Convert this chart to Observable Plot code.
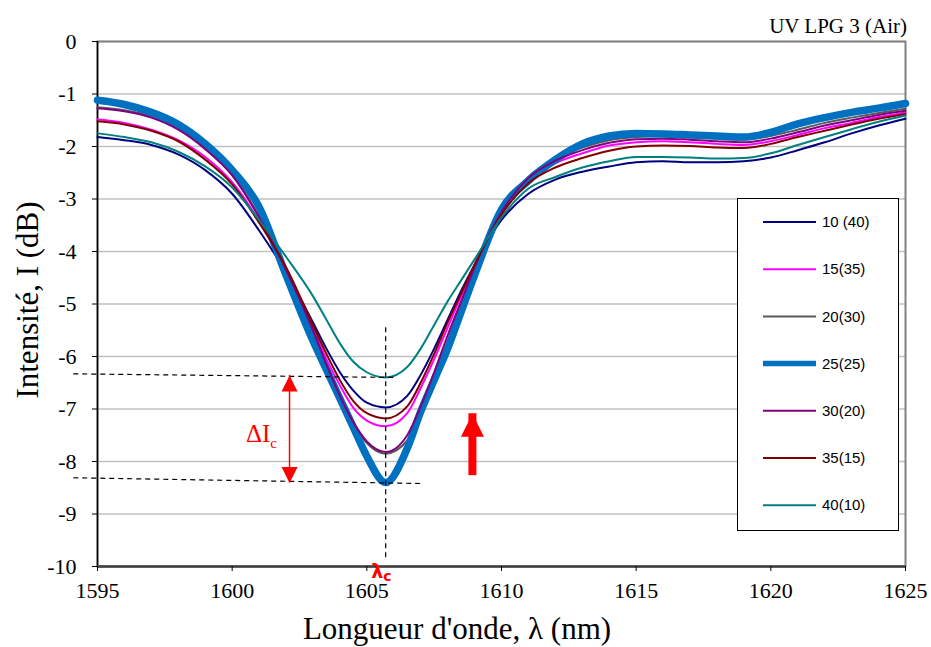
<!DOCTYPE html>
<html><head><meta charset="utf-8">
<script src="https://cdn.jsdelivr.net/npm/d3@7"></script>
<script src="https://cdn.jsdelivr.net/npm/@observablehq/plot@0.6"></script>
<style>
body{margin:0;background:#fff}
#chart svg{display:block}
#chart svg text{font-family:"Liberation Serif","Times New Roman",Times,"DejaVu Serif",serif}
#chart svg text.sans{font-family:"Liberation Sans",Arial,"DejaVu Sans",sans-serif}
#chart svg text.lam{font-family:"DejaVu Sans","Liberation Sans",sans-serif;font-weight:bold}
</style>
</head><body><div id="chart"></div>
<script>
// ---- data ----
const wavelength = [1595,1596,1597,1598,1599,1600,1601,1602,1603,1603.5,1604,1604.5,1605,1605.7,1606.5,1607,1607.5,1608,1608.5,1609,1610,1611,1612,1613,1614,1615,1616,1617,1618,1619,1620,1621,1622,1623,1624,1625];
const s10_40 = [-1.82,-1.88,-1.97,-2.15,-2.45,-2.9,-3.6,-4.4,-5.35,-5.85,-6.3,-6.65,-6.88,-6.97,-6.75,-6.35,-5.85,-5.3,-4.75,-4.25,-3.4,-2.9,-2.63,-2.48,-2.38,-2.3,-2.28,-2.3,-2.3,-2.28,-2.21,-2.07,-1.92,-1.75,-1.6,-1.47];
const s15_35 = [-1.48,-1.55,-1.68,-1.88,-2.2,-2.68,-3.42,-4.35,-5.45,-6.05,-6.55,-6.98,-7.22,-7.33,-7.08,-6.6,-6.05,-5.45,-4.85,-4.25,-3.28,-2.65,-2.32,-2.13,-1.98,-1.92,-1.9,-1.92,-1.95,-1.97,-1.9,-1.78,-1.65,-1.55,-1.44,-1.35];
const s20_30 = [-1.25,-1.31,-1.43,-1.66,-2.03,-2.53,-3.33,-4.35,-5.5,-6.15,-6.75,-7.27,-7.65,-7.85,-7.6,-7.1,-6.45,-5.75,-5.05,-4.35,-3.25,-2.58,-2.23,-2.02,-1.88,-1.82,-1.8,-1.82,-1.85,-1.87,-1.8,-1.68,-1.55,-1.45,-1.36,-1.28];
const s25_25 = [-1.12,-1.2,-1.35,-1.58,-1.95,-2.45,-3.15,-4.45,-5.7,-6.25,-6.8,-7.35,-7.9,-8.4,-7.75,-7.05,-6.45,-5.85,-5.15,-4.45,-3.2,-2.65,-2.25,-1.95,-1.8,-1.75,-1.76,-1.78,-1.8,-1.82,-1.73,-1.57,-1.45,-1.35,-1.27,-1.18];
const s30_20 = [-1.27,-1.33,-1.45,-1.68,-2.05,-2.55,-3.35,-4.35,-5.5,-6.15,-6.75,-7.25,-7.62,-7.82,-7.5,-6.95,-6.3,-5.6,-4.95,-4.3,-3.25,-2.6,-2.27,-2.07,-1.93,-1.86,-1.85,-1.87,-1.9,-1.92,-1.85,-1.73,-1.6,-1.5,-1.4,-1.32];
const s35_15 = [-1.52,-1.58,-1.7,-1.9,-2.25,-2.72,-3.45,-4.3,-5.4,-5.95,-6.45,-6.85,-7.08,-7.18,-6.95,-6.5,-5.95,-5.35,-4.8,-4.25,-3.3,-2.7,-2.4,-2.22,-2.08,-2.0,-1.98,-1.99,-2.02,-2.03,-1.95,-1.82,-1.7,-1.58,-1.47,-1.38];
const s40_10 = [-1.75,-1.82,-1.92,-2.1,-2.38,-2.78,-3.4,-4.1,-4.85,-5.3,-5.75,-6.1,-6.3,-6.4,-6.2,-5.85,-5.4,-4.95,-4.55,-4.15,-3.35,-2.8,-2.58,-2.4,-2.28,-2.2,-2.2,-2.21,-2.23,-2.22,-2.13,-1.97,-1.82,-1.67,-1.53,-1.41];

const seriesNames = ["10 (40)","15(35)","20(30)","25(25)","30(20)","35(15)","40(10)"];
const seriesValues = [s10_40, s15_35, s20_30, s25_25, s30_20, s35_15, s40_10];
const seriesColors = ["#000080","#ff00ff","#595959","#0070c0","#800080","#800000","#008080"];
const seriesWidths = [2,2,2,7.5,2,2,2];

const xTicks = [1595,1600,1605,1610,1615,1620,1625];
const yTicks = [0,-1,-2,-3,-4,-5,-6,-7,-8,-9,-10];

// annotation values (data units)
const lambdaC = 1605.7;
const lambdaLine = [{x: lambdaC, y1: -5.45, y2: -9.9}];
const levelLines = [
  {x1: 1594.1, y1: -6.33, x2: 1606.1, y2: -6.4},
  {x1: 1594.1, y1: -8.31, x2: 1607.1, y2: -8.42}
];
const deltaArrow = {x: 1602.13, top: -6.36, bottom: -8.41};
const bigArrow = {x: 1608.92, tip: -7.09, base: -8.27};

// ---- build table ----
const rows = [];
seriesNames.forEach((name, i) => {
  seriesValues[i].forEach((v, j) => rows.push({series: name, wl: wavelength[j], I: v}));
});

const headUp = {draw(ctx, size){ const r = Math.sqrt(size/Math.PI); ctx.moveTo(0,-r); ctx.lineTo(r,r); ctx.lineTo(-r,r); ctx.closePath(); }};
const headDown = {draw(ctx, size){ const r = Math.sqrt(size/Math.PI); ctx.moveTo(0,r); ctx.lineTo(r,-r); ctx.lineTo(-r,-r); ctx.closePath(); }};

const lineMarks = seriesNames.map((name, i) =>
  Plot.line(rows.filter(d => d.series === name), {x: "wl", y: "I", stroke: seriesColors[i], strokeWidth: seriesWidths[i], curve: "monotone-x", strokeLinejoin: "round"})
);

const chart = Plot.plot({
  width: 931, height: 647,
  marginLeft: 97, marginRight: 26, marginTop: 41, marginBottom: 81,
  style: {fontSize: "22px", color: "#000", background: "#fff"},
  x: {domain: [1595, 1625]},
  y: {domain: [-10, 0]},
  marks: [
    Plot.gridY(yTicks, {stroke: "#c0c0c0", strokeOpacity: 1, strokeWidth: 1.3}),
    Plot.frame({stroke: "#808080", strokeWidth: 2}),
    Plot.ruleX([1595], {stroke: "#000", strokeWidth: 1.5}),
    Plot.ruleY([-10], {stroke: "#404040", strokeWidth: 2.5}),
    Plot.axisY(yTicks, {tickFormat: d => String(d), tickSize: 5, tickPadding: 16, label: null, fontSize: 22, stroke: "#000"}),
    Plot.axisX(xTicks, {tickFormat: d => String(d), tickSize: 5, tickPadding: 11, label: null, fontSize: 22, stroke: "#000"}),
    ...lineMarks,
    // annotations
    Plot.link(levelLines, {x1: "x1", y1: "y1", x2: "x2", y2: "y2", stroke: "#000", strokeWidth: 1.2, strokeDasharray: "5,4"}),
    Plot.ruleX(lambdaLine, {x: "x", y1: "y1", y2: "y2", stroke: "#000", strokeWidth: 1.2, strokeDasharray: "5,4"}),
    Plot.ruleX([deltaArrow], {x: "x", y1: "top", y2: "bottom", stroke: "#ff0000", strokeWidth: 1.5}),
    Plot.dot([deltaArrow], {x: "x", y: "top", symbol: headUp, r: 8, fill: "#ff0000", stroke: null, dy: 8}),
    Plot.dot([deltaArrow], {x: "x", y: "bottom", symbol: headDown, r: 8, fill: "#ff0000", stroke: null, dy: -8}),
    Plot.ruleX([bigArrow], {x: "x", y1: "base", y2: "tip", stroke: "#ff0000", strokeWidth: 8}),
    Plot.dot([bigArrow], {x: "x", y: "tip", symbol: headUp, r: 11.5, fill: "#ff0000", stroke: null, dy: 11.5})
  ]
});

document.getElementById("chart").appendChild(chart);

const svg = d3.select(chart);
const xs = chart.scale("x");

// Title
svg.append("text").attr("x", 907).attr("y", 33).attr("text-anchor", "end")
  .attr("font-size", 21).attr("fill", "#000")
  .text("UV LPG 3 (Air)");

// Axis titles
svg.append("text").attr("x", 457).attr("y", 639).attr("text-anchor", "middle")
  .attr("font-size", 31).attr("fill", "#000")
  .text("Longueur d'onde, λ (nm)");
svg.append("text").attr("transform", "translate(38,300) rotate(-90)").attr("text-anchor", "middle")
  .attr("font-size", 31).attr("fill", "#000")
  .text("Intensité, I (dB)");

// ΔIc label
const dl = svg.append("text").attr("x", xs.apply(deltaArrow.x) - 12).attr("y", 442).attr("text-anchor", "end")
  .attr("font-size", 25).attr("fill", "#ff0000");
dl.append("tspan").text("ΔI");
dl.append("tspan").attr("font-size", 15).attr("dy", 6).text("c");

// λc label
const lc = svg.append("text").attr("class", "lam").attr("x", xs.apply(lambdaC) - 14).attr("y", 578).attr("text-anchor", "start")
  .attr("font-size", 19).attr("fill", "#ff0000");
lc.append("tspan").text("λ");
lc.append("tspan").attr("font-size", 14).attr("dy", 3).text("c");

// Legend
const lg = svg.append("g");
lg.append("rect").attr("x", 737.5).attr("y", 198.5).attr("width", 161).attr("height", 332)
  .attr("fill", "#fff").attr("stroke", "#000").attr("stroke-width", 1);
seriesNames.forEach((name, i) => {
  const cy = 222 + i * 47.2;
  lg.append("line").attr("x1", 763).attr("x2", 816).attr("y1", cy).attr("y2", cy)
    .attr("stroke", seriesColors[i]).attr("stroke-width", i === 3 ? 5.5 : 2);
  lg.append("text").attr("class", "sans").attr("x", 822).attr("y", cy).attr("dy", "0.35em")
    .attr("text-anchor", "start").attr("font-size", 15).attr("fill", "#000")
    .text(name);
});
</script>
</body></html>
